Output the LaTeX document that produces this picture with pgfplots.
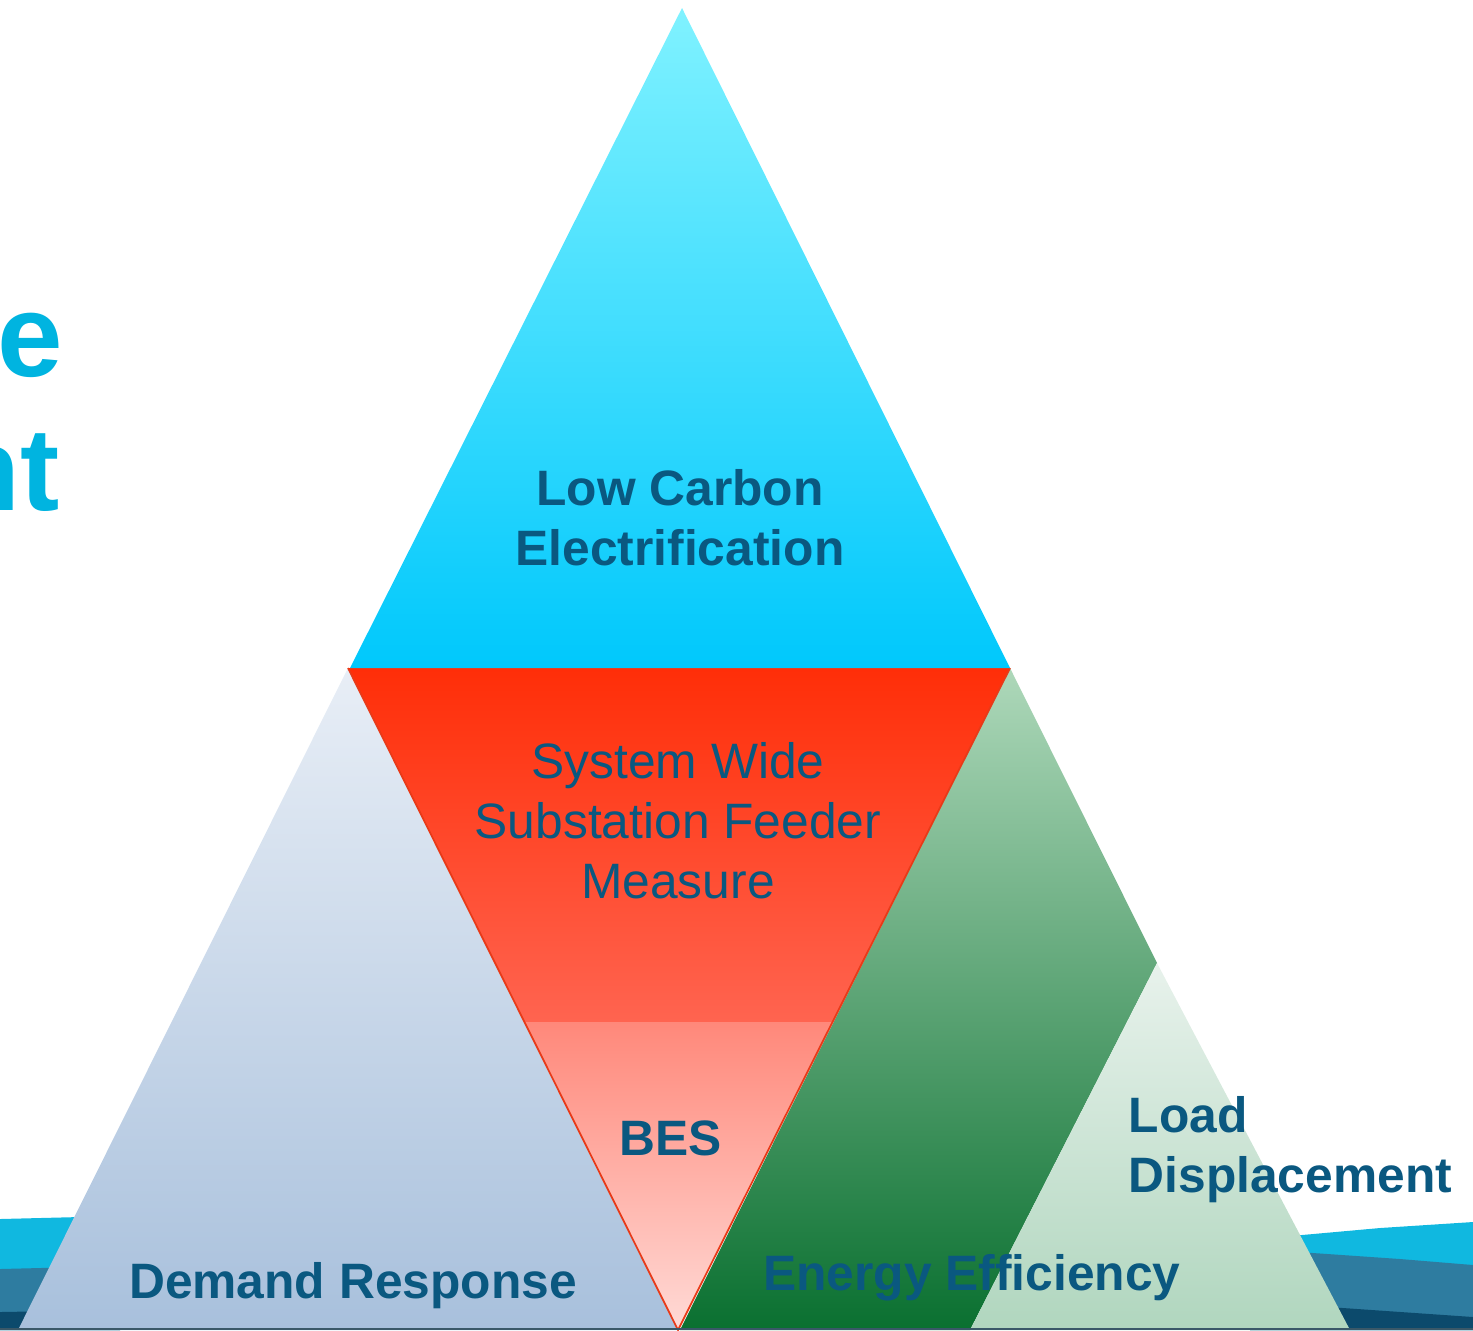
\documentclass[border=0pt]{standalone}
\usepackage{pgfplots}
\pgfplotsset{compat=1.18}
\usepackage{fontspec}
\setmainfont{Liberation Sans}
\definecolor{lbl}{HTML}{0A5880}
\definecolor{wcyan}{HTML}{10B8E0}
\definecolor{wteal}{HTML}{2E7CA0}
\definecolor{wdark}{HTML}{0C4A6C}
\definecolor{bigtxt}{HTML}{00B4E0}
\definecolor{drTop}{HTML}{E8EEF6}
\definecolor{drBot}{HTML}{A8C0DC}
\definecolor{eeTop}{HTML}{AED8BA}
\definecolor{eeBot}{HTML}{0A7030}
\definecolor{ldTop}{HTML}{E8F2EC}
\definecolor{ldBot}{HTML}{B0D6BE}
\definecolor{rdTop}{HTML}{FF2E08}
\definecolor{rdBot}{HTML}{FF6450}
\definecolor{bsTop}{HTML}{FF887A}
\definecolor{bsBot}{HTML}{FFDAD6}
\definecolor{rdEdge}{HTML}{E83A18}
\definecolor{cyTop}{HTML}{80F2FF}
\definecolor{cyBot}{HTML}{00C8FC}
\definecolor{botLine}{HTML}{3A5868}
\begin{document}
\begin{tikzpicture}
\begin{axis}[name=ax, width=14.73cm, height=13.30cm, scale only axis,
  xmin=0, xmax=1473, ymin=0, ymax=1330, y dir=reverse, hide axis, clip=true]
% waves left
\addplot[fill=wcyan, draw=none] coordinates {(0,1219) (120,1216) (120,1330) (0,1330)} -- cycle;
\addplot[fill=wteal, draw=none] coordinates {(0,1269) (120,1266) (120,1330) (0,1330)} -- cycle;
\addplot[fill=wdark, draw=none] coordinates {(0,1312) (120,1310) (120,1330) (0,1330)} -- cycle;
% waves right
\addplot[fill=wcyan, draw=none] coordinates {(1250,1240) (1302,1235) (1380,1228) (1473,1222) (1473,1330) (1250,1330)} -- cycle;
\addplot[fill=wteal, draw=none] coordinates {(1250,1249) (1313,1253) (1400,1259) (1473,1265) (1473,1330) (1250,1330)} -- cycle;
\addplot[fill=wdark, draw=none] coordinates {(1250,1303) (1343,1308) (1473,1317) (1473,1330) (1250,1330)} -- cycle;
% demand response triangle
\addplot[draw=none, top color=drTop, bottom color=drBot] coordinates {(348,668) (678,1330) (18,1330)} -- cycle;
% energy efficiency shape
\addplot[draw=none, top color=eeTop, bottom color=eeBot] coordinates {(1010,668) (1157,963) (970,1330) (680,1330)} -- cycle;
% load displacement triangle
\addplot[draw=none, top color=ldTop, bottom color=ldBot] coordinates {(1157,963) (1350,1330) (970,1330)} -- cycle;
% red inverted triangle, upper part
\addplot[draw=none, top color=rdTop, bottom color=rdBot] coordinates {(348,668) (1010,668) (833.5,1022) (524.5,1022)} -- cycle;
% lower part (BES)
\addplot[draw=none, top color=bsTop, bottom color=bsBot] coordinates {(524.5,1022) (833.5,1022) (678,1330)} -- cycle;
\addplot[draw=rdEdge, line width=0.5pt] coordinates {(348,668) (678,1330) (1010,668)};
% top cyan triangle
\addplot[draw=none, top color=cyTop, bottom color=cyBot] coordinates {(682,8) (1010,668) (350,668)} -- cycle;
% bottom line
\addplot[draw=botLine, line width=0.6pt] coordinates {(0,1329) (1473,1329)};
% texts
\node[anchor=base, text=lbl, font=\fontsize{14.15}{17}\selectfont\bfseries] at (axis cs:680,505) {Low Carbon};
\node[anchor=base, text=lbl, font=\fontsize{14.15}{17}\selectfont\bfseries] at (axis cs:680,565) {Electrification};
\node[anchor=base, text=lbl, font=\fontsize{14.15}{17}\selectfont] at (axis cs:678,778) {System Wide};
\node[anchor=base, text=lbl, font=\fontsize{14.15}{17}\selectfont] at (axis cs:678,838) {Substation Feeder};
\node[anchor=base, text=lbl, font=\fontsize{14.15}{17}\selectfont] at (axis cs:678,898) {Measure};
\node[anchor=base, text=lbl, font=\fontsize{14.15}{17}\selectfont\bfseries] at (axis cs:671,1155) {BES};
\node[anchor=base, text=lbl, font=\fontsize{14.15}{17}\selectfont\bfseries] at (axis cs:353,1298) {Demand Response};
\node[anchor=base, text=lbl, font=\fontsize{14.15}{17}\selectfont\bfseries] at (axis cs:972,1290) {Energy Efficiency};
\node[anchor=base west, text=lbl, font=\fontsize{14.15}{17}\selectfont\bfseries, inner sep=0pt] at (axis cs:1128,1132) {Load};
\node[anchor=base west, text=lbl, font=\fontsize{14.15}{17}\selectfont\bfseries, inner sep=0pt] at (axis cs:1128,1192) {Displacement};
\node[anchor=base east, text=bigtxt, font=\fontsize{33.5}{40}\selectfont\bfseries, inner sep=0pt] at (axis cs:64,376) {ve};
\node[anchor=base east, text=bigtxt, font=\fontsize{33.5}{40}\selectfont\bfseries, inner sep=0pt] at (axis cs:60,510) {ent};
\end{axis}
\pgfresetboundingbox
\useasboundingbox (ax.south west) rectangle (ax.north east);
\end{tikzpicture}
\end{document}
